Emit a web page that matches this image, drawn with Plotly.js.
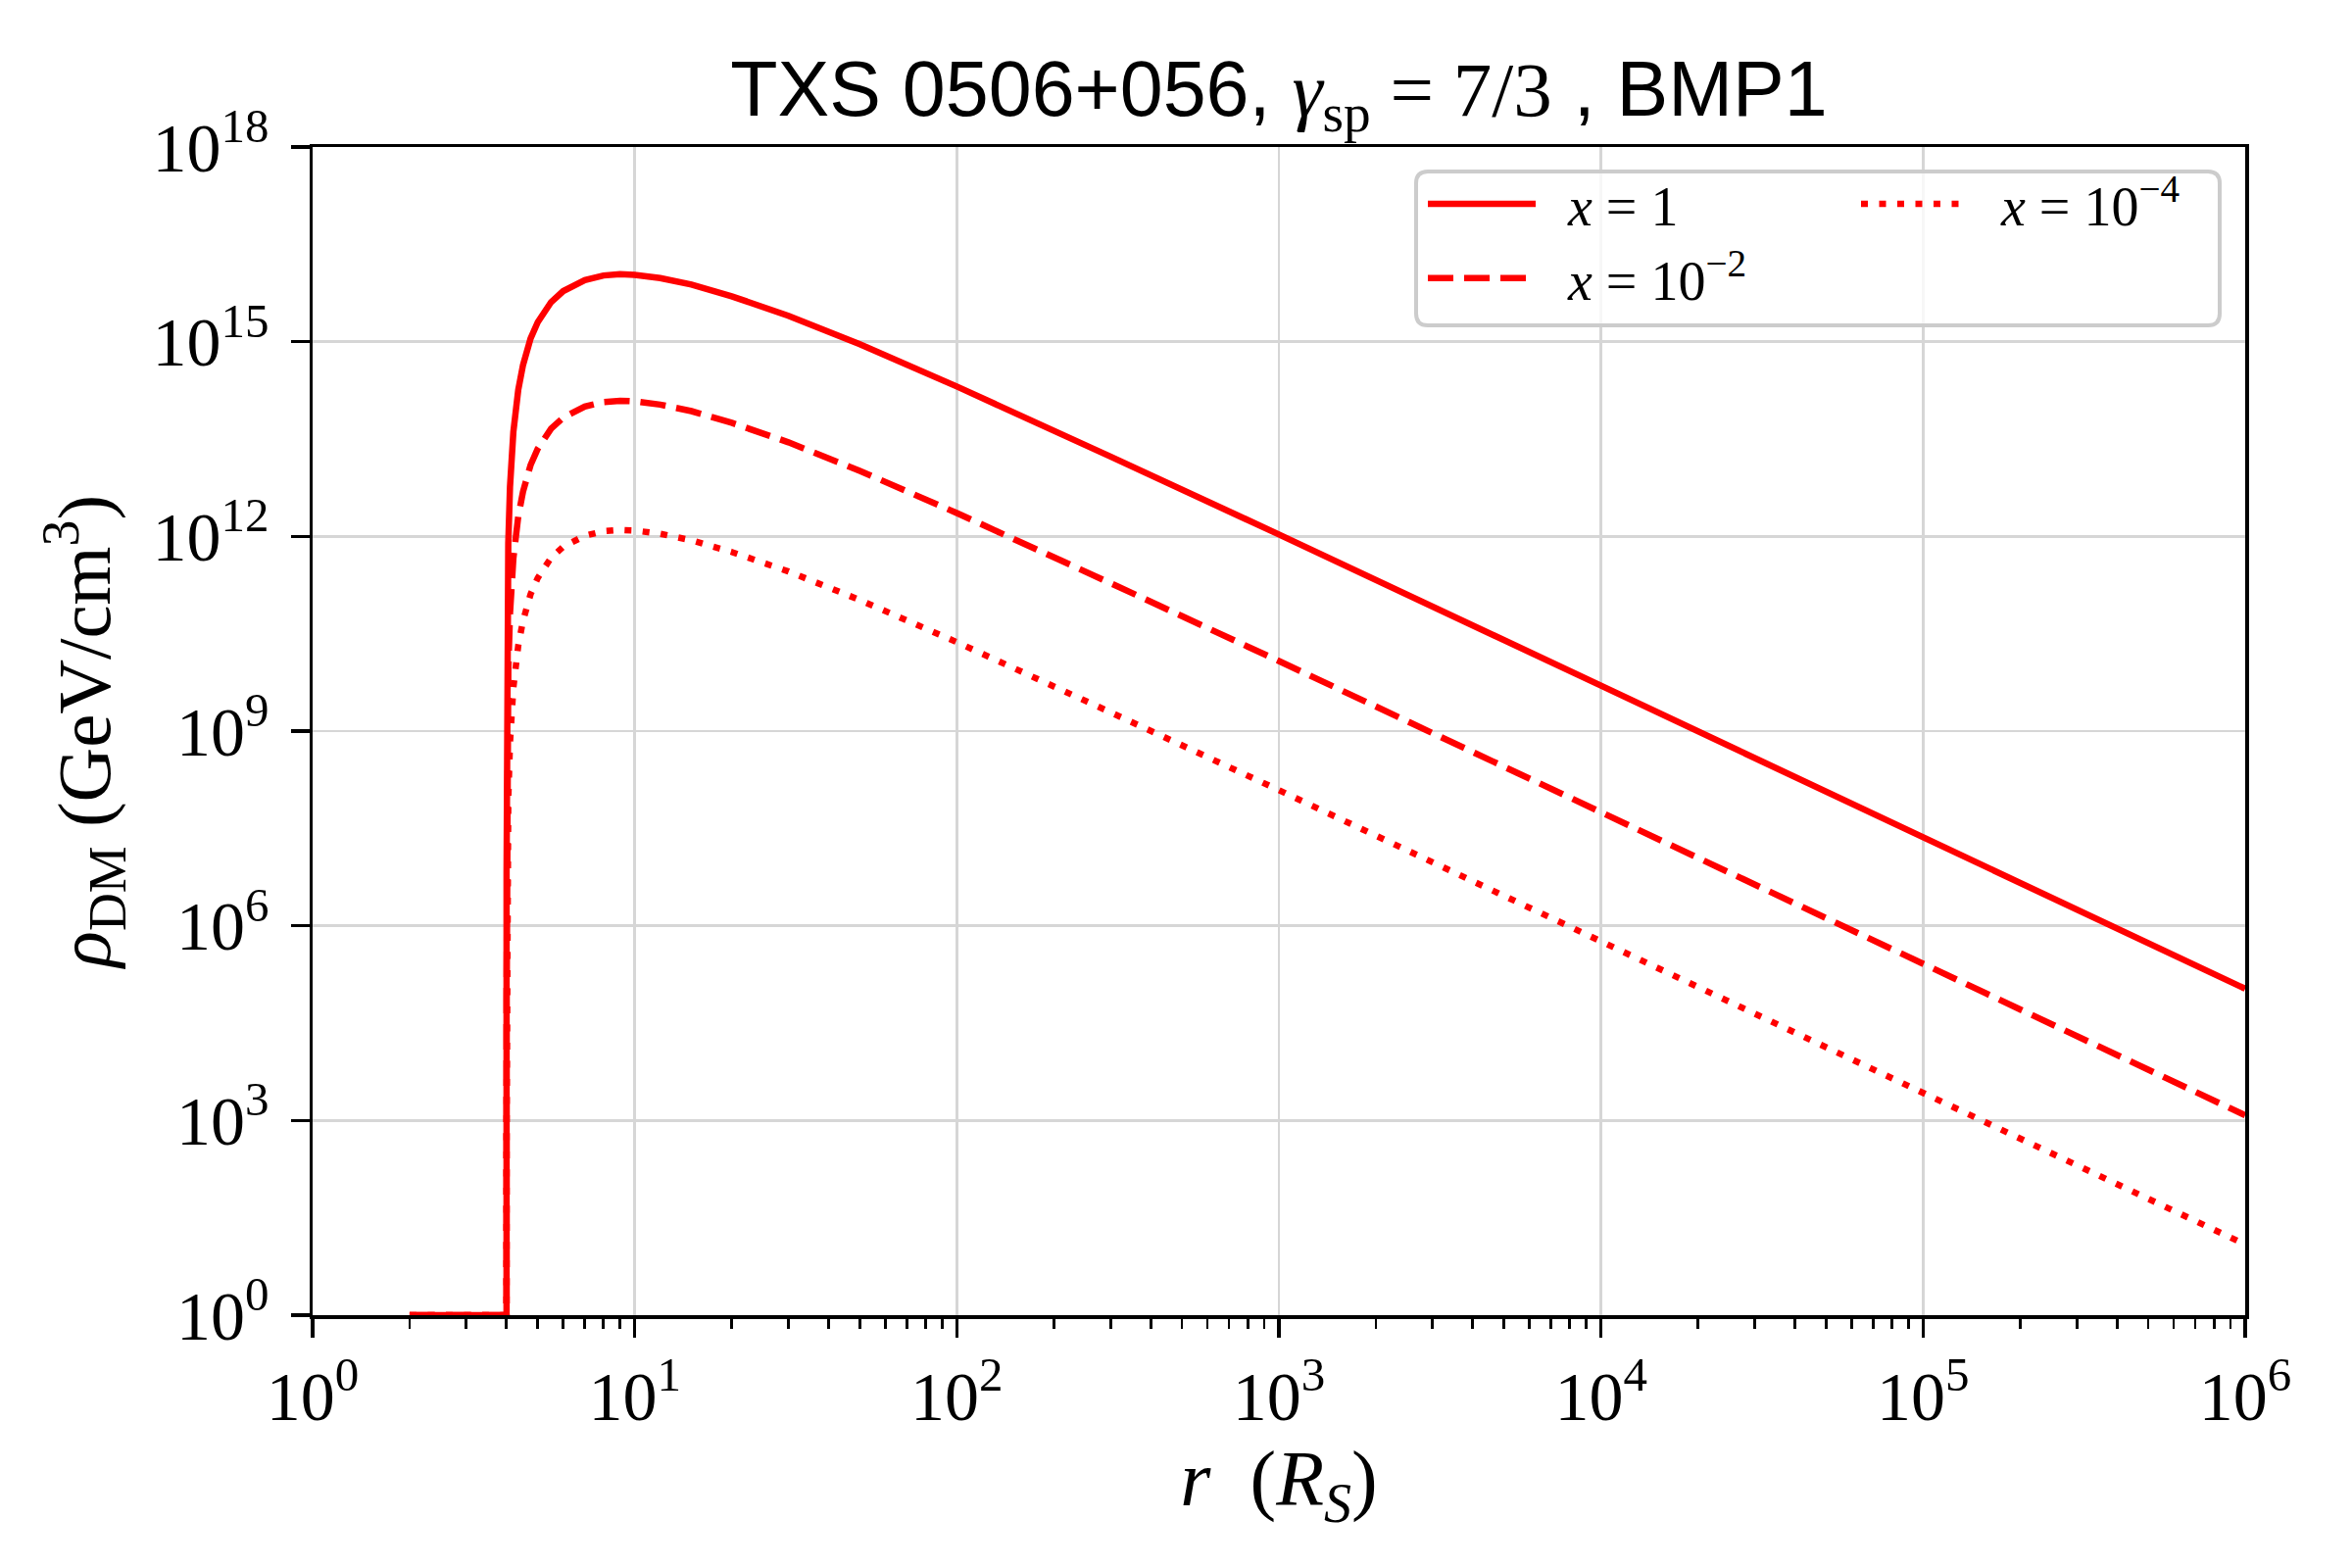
<!DOCTYPE html>
<html>
<head>
<meta charset="utf-8">
<script src="https://cdn.plot.ly/plotly-3.0.1.min.js"></script>
<style>html,body{margin:0;padding:0;background:#fff;}#chart{width:2400px;height:1600px;}</style>
</head>
<body>
<div id="chart"></div>
<script>
// radius r in units of R_S
const radius = [2, 4, 4.001, 4.005, 4.01, 4.02, 4.05, 4.1, 4.2, 4.35, 4.5, 4.75, 5, 5.5, 6, 7, 8, 9, 10, 12, 15, 20, 30, 50, 100, 300, 1000, 10000, 100000, 1000000];
// log10 of rho_DM (GeV/cm^3)
const logRhoX1 = [0, 0, 6.82, 8.91, 9.81, 10.71, 11.89, 12.76, 13.61, 14.26, 14.64, 15.05, 15.30, 15.61, 15.78, 15.95, 16.02, 16.04, 16.03, 15.98, 15.88, 15.70, 15.40, 14.96, 14.31, 13.23, 12.03, 9.70, 7.36, 5.03];
const logRhoX1em2 = [0, 0, 4.87, 6.96, 7.86, 8.76, 9.94, 10.81, 11.66, 12.31, 12.69, 13.10, 13.35, 13.66, 13.83, 14.00, 14.07, 14.09, 14.08, 14.03, 13.93, 13.75, 13.45, 13.01, 12.36, 11.28, 10.08, 7.75, 5.41, 3.08];
const logRhoX1em4 = [0, 0, 2.88, 4.97, 5.87, 6.77, 7.95, 8.82, 9.67, 10.32, 10.70, 11.11, 11.36, 11.67, 11.84, 12.01, 12.08, 12.10, 12.09, 12.04, 11.94, 11.76, 11.46, 11.02, 10.37, 9.29, 8.09, 5.76, 3.42, 1.09];
const seriesNames = ['<i>x</i> = 1', '<i>x</i> = 10<sup>−2</sup>', '<i>x</i> = 10<sup>−4</sup>'];
const xTickVals = [1, 10, 100, 1000, 10000, 100000, 1000000];
const xTickText = ['10<sup>0</sup>', '10<sup>1</sup>', '10<sup>2</sup>', '10<sup>3</sup>', '10<sup>4</sup>', '10<sup>5</sup>', '10<sup>6</sup>'];
const yTickVals = [1, 1e3, 1e6, 1e9, 1e12, 1e15, 1e18];
const yTickText = ['10<sup>0</sup>', '10<sup>3</sup>', '10<sup>6</sup>', '10<sup>9</sup>', '10<sup>12</sup>', '10<sup>15</sup>', '10<sup>18</sup>'];

const toVal = a => a.map(v => Math.pow(10, v));
const serif = 'Liberation Serif, DejaVu Serif, serif';
const red = '#ff0000';
const LW = 6.5;
const pad = '\u2002';

const traces = [
  {x: radius, y: toVal(logRhoX1), name: pad + seriesNames[0], mode: 'lines', line: {color: red, width: LW, dash: 'solid'}, legend: 'legend'},
  {x: radius, y: toVal(logRhoX1em2), name: pad + seriesNames[1], mode: 'lines', line: {color: red, width: LW, dash: '26px,11px'}, legend: 'legend'},
  {x: radius, y: toVal(logRhoX1em4), name: pad + seriesNames[2], mode: 'lines', line: {color: red, width: LW, dash: '7px,11.5px'}, legend: 'legend2'}
];

// minor tick positions for log x axis
const minorX = [];
for (let d = 0; d < 6; d++) for (let k = 2; k <= 9; k++) minorX.push(k * Math.pow(10, d));

const L = 319, R = 2291, T = 150, B = 1342;
const fx = px => (px - L) / (R - L);
const fy = py => (B - py) / (B - T);
// rounded legend frame
const bx0 = fx(1445), bx1 = fx(2265), by0 = fy(332), by1 = fy(175);
const rx = 12 / (R - L), ry = 12 / (B - T);
const framePath = `M${bx0+rx},${by0} L${bx1-rx},${by0} Q${bx1},${by0} ${bx1},${by0+ry} L${bx1},${by1-ry} Q${bx1},${by1} ${bx1-rx},${by1} L${bx0+rx},${by1} Q${bx0},${by1} ${bx0},${by1-ry} L${bx0},${by0+ry} Q${bx0},${by0} ${bx0+rx},${by0} Z`;

const axisCommon = {
  showline: true, mirror: true, linecolor: '#000', linewidth: 3.5,
  ticks: 'outside', ticklen: 19, tickwidth: 3.5, tickcolor: '#000',
  showgrid: true, gridcolor: '#d6d6d6', gridwidth: 2.5,
  zeroline: false, tickfont: {family: serif, size: 70, color: '#000'},
  tickmode: 'array'
};

const layout = {
  width: 2400, height: 1600,
  paper_bgcolor: '#fff', plot_bgcolor: '#fff',
  margin: {l: L, r: 2400 - R, t: T, b: 1600 - B, pad: 0},
  title: {
    text: 'TXS 0506+056, <span style="font-family:Liberation Serif"><i>γ</i><sub>sp</sub> = 7/3</span> , BMP1',
    font: {family: 'Liberation Sans, Arial, sans-serif', size: 79, color: '#000'},
    x: 0.5, xref: 'paper', xanchor: 'center', y: 1 - 90 / 1600, yref: 'container', yanchor: 'middle'
  },
  xaxis: Object.assign({}, axisCommon, {
    type: 'log', range: [0, 6], tickvals: xTickVals, ticktext: xTickText,
    minor: {tickmode: 'array', tickvals: minorX, ticks: 'outside', ticklen: 10, tickwidth: 2.8, tickcolor: '#000', showgrid: false},
    title: {text: '<i>r</i>  (<i>R</i><sub><i>S</i></sub>)', font: {family: serif, size: 80, color: '#000'}, standoff: 18}
  }),
  yaxis: Object.assign({}, axisCommon, {
    type: 'log', range: [0, 18], tickvals: yTickVals, ticktext: yTickText,
    ticklabelstandoff: 8,
    title: {text: '<i>ρ</i><sub>DM</sub> (GeV/cm<sup>3</sup>)', font: {family: serif, size: 77, color: '#000'}, standoff: 18}
  }),
  showlegend: true,
  legend: {
    x: fx(1452), y: fy(165), xanchor: 'left', yanchor: 'top',
    bgcolor: 'rgba(0,0,0,0)', borderwidth: 0,
    font: {family: serif, size: 56, color: '#000'},
    itemwidth: 110, tracegroupgap: 0
  },
  legend2: {
    x: fx(1894), y: fy(165), xanchor: 'left', yanchor: 'top',
    bgcolor: 'rgba(0,0,0,0)', borderwidth: 0,
    font: {family: serif, size: 56, color: '#000'},
    itemwidth: 110, tracegroupgap: 0
  },
  shapes: [
    {type: 'path', xref: 'paper', yref: 'paper', path: framePath, layer: 'above',
     fillcolor: 'rgba(255,255,255,0.8)', line: {color: '#cccccc', width: 4}}
  ]
};

Plotly.newPlot('chart', traces, layout, {displayModeBar: false, staticPlot: true});
</script>
</body>
</html>
